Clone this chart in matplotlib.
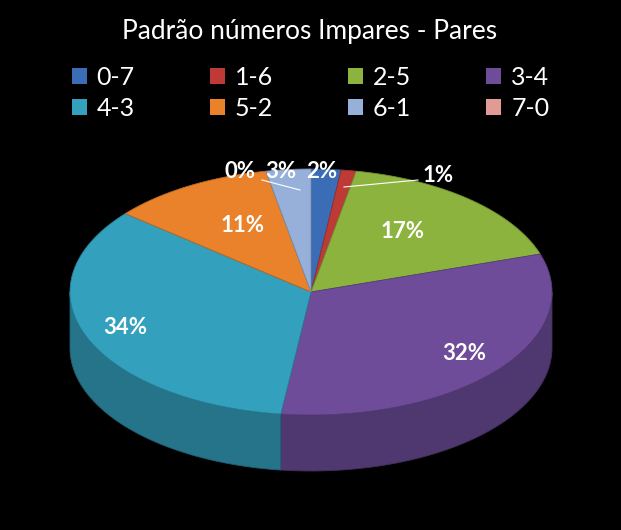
import numpy as np
import matplotlib
matplotlib.use("Agg")
import matplotlib.pyplot as plt
from matplotlib.patches import Polygon, Patch
import matplotlib.colors as mc

plt.rcParams['font.family'] = ['Lato', 'DejaVu Sans']

categories = ["0-7", "1-6", "2-5", "3-4", "4-3", "5-2", "6-1", "7-0"]
values = [2, 1, 17, 32, 34, 11, 3, 0]
labels = ["2%", "1%", "17%", "32%", "34%", "11%", "3%", "0%"]
colors = ["#3A6DB5", "#BE3A37", "#8DB33F", "#6E4C9A", "#33A1BE", "#E9822A", "#96B0DA", "#E29A94"]
label_pos = [(322, 172), (438, 175), (403, 232), (464, 353), (125, 328), (243, 226), (281, 172), (240, 172)]

fig = plt.figure(figsize=(6.21, 5.30), dpi=100, facecolor="black")
ax = fig.add_axes([0, 0, 1, 1])
ax.set_xlim(0, 621); ax.set_ylim(530, 0); ax.axis("off")
ax.set_facecolor("black")

cx, cy, rx, ry, depth = 311, 292, 241, 123, 56

def pt(a, dy=0.0):
    r = np.radians(a)
    return cx + rx * np.cos(r), cy - ry * np.sin(r) + dy

total = sum(values)
angles = 90 - 360 * np.concatenate([[0], np.cumsum(values)]) / total

def darker(c, f=0.72):
    r, g, b = mc.to_rgb(c)
    return (r * f, g * f, b * f)

for i in range(len(values)):
    a1, a0 = angles[i], angles[i + 1]
    lo, hi = sorted([a0, a1])
    for k in range(-2, 2):
        s = max(lo, -180 + 360 * k); e = min(hi, 0 + 360 * k)
        if e > s:
            t = np.linspace(s, e, 60)
            top = [pt(a) for a in t]
            bot = [pt(a, depth) for a in t[::-1]]
            ax.add_patch(Polygon(top + bot, closed=True, facecolor=darker(colors[i]),
                                 edgecolor=darker(colors[i], 0.6), lw=0.6))

for i in range(len(values)):
    if values[i] == 0:
        continue
    t = np.linspace(angles[i], angles[i + 1], 100)
    poly = [(cx, cy)] + [pt(a) for a in t]
    ax.add_patch(Polygon(poly, closed=True, facecolor=colors[i],
                         edgecolor=darker(colors[i], 0.8), lw=0.6))

ax.plot([344, 418], [187, 180], color="white", lw=0.8)
ax.plot([262, 300], [180, 190], color="white", lw=0.8)

for lab, (x, y) in zip(labels, label_pos):
    ax.text(x, y, lab, color="white", fontsize=16, fontweight="bold", ha="center", va="center")

ax.text(310, 32, "Padrão números Impares - Pares", color="white", fontsize=19, ha="center", va="center")

order = [0, 4, 1, 5, 2, 6, 3, 7]
handles = [Patch(facecolor=colors[j], edgecolor="none") for j in order]
fig.legend(handles, [categories[j] for j in order], loc="center", bbox_to_anchor=(0.5, 0.825), ncol=4,
           frameon=False, labelcolor="white", fontsize=18, handlelength=0.6, handleheight=0.6,
           columnspacing=3.0, handletextpad=0.4, labelspacing=0.3)

fig.savefig("out.png", dpi=100, facecolor="black")
